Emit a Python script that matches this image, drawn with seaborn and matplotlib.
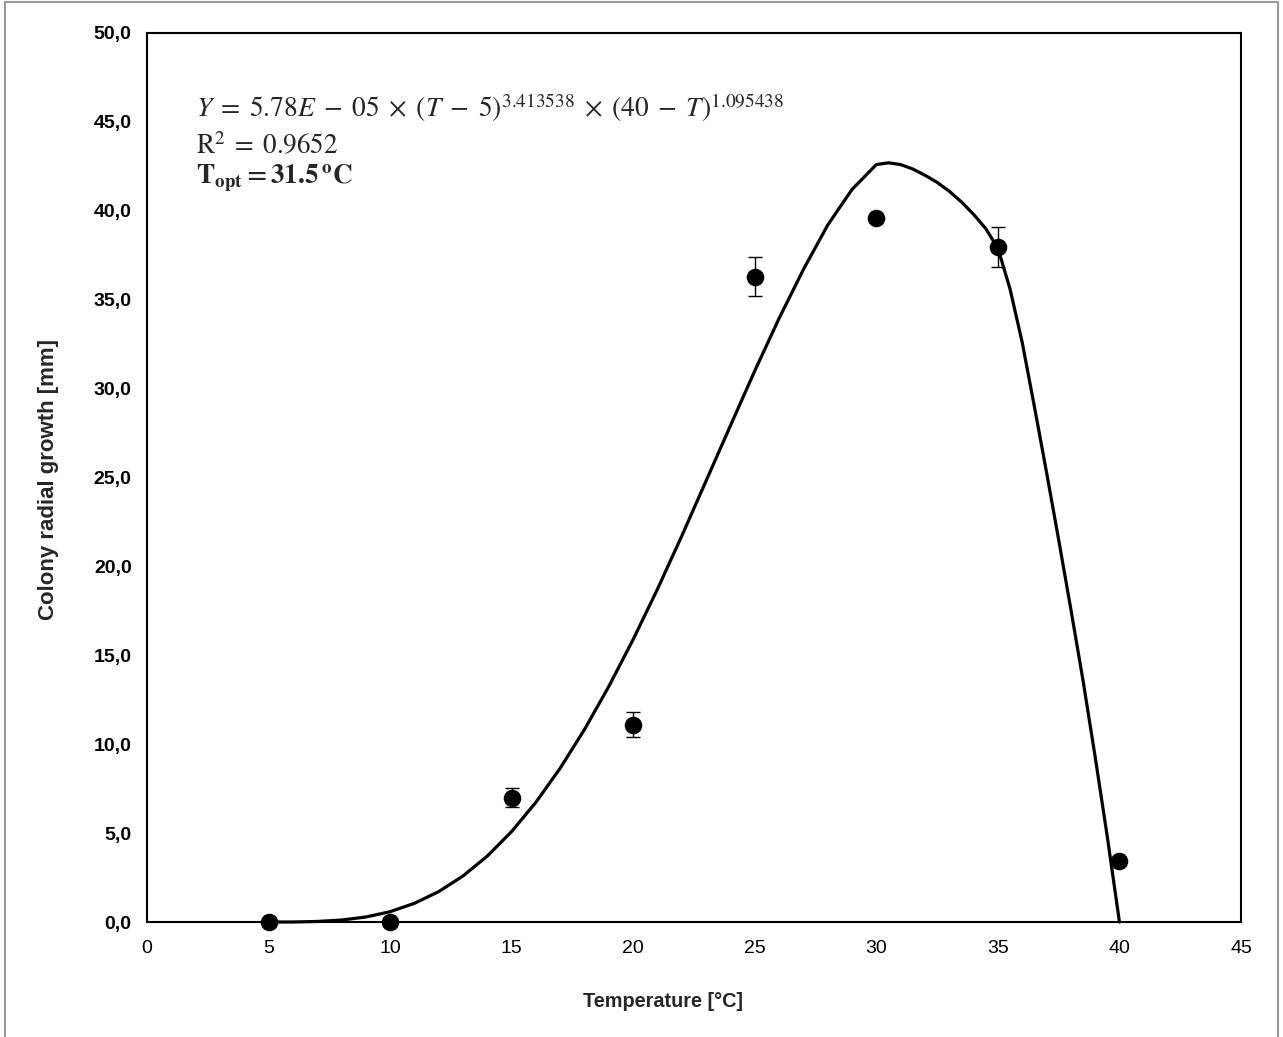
import numpy as np
import pandas as pd
import matplotlib
matplotlib.use("Agg")
import matplotlib.pyplot as plt
from matplotlib.patches import Rectangle
import seaborn as sns

# ---- data ----
temperature = [5, 10, 15, 20, 25, 30, 35, 40]
growth = [0.0, 0.0, 7.0, 11.1, 36.3, 39.6, 37.95, 3.45]
growth_err = [0.0, 0.0, 0.53, 0.70, 1.09, 0.0, 1.12, 0.2]

# fitted curve, values
fit_temperature = [5, 6, 7, 8, 9, 10, 11, 12, 13, 14, 15, 16, 17, 18, 19, 20,
                   21, 22, 23, 24, 25, 26, 27, 28, 29, 30, 30.5, 31, 31.5, 32,
                   32.5, 33, 33.5, 34, 34.5, 35, 35.5, 36, 36.5, 37, 37.5, 38,
                   38.5, 39, 39.5, 40]
fit_growth = [0.0, 0.0, 0.03, 0.11, 0.28, 0.58, 1.05, 1.71, 2.59, 3.71, 5.09,
              6.74, 8.66, 10.84, 13.26, 15.9, 18.73, 21.72, 24.82, 27.92, 31.0,
              33.95, 36.7, 39.2, 41.2, 42.6, 42.7, 42.6, 42.35, 42.0,
              41.6, 41.1, 40.5, 39.8, 39.0, 37.9, 35.6, 32.6, 29.0, 25.3,
              21.5, 17.6, 13.6, 9.3, 4.8, 0.0]

x_ticks = [0, 5, 10, 15, 20, 25, 30, 35, 40, 45]
y_ticks = [0, 5, 10, 15, 20, 25, 30, 35, 40, 45, 50]

sns.set_theme(style="white")
fam = ["Liberation Sans", "DejaVu Sans"]
plt.rcParams["font.family"] = fam
plt.rcParams["mathtext.fontset"] = "stix"

fig = plt.figure(figsize=(12.83, 10.37), dpi=100)
ax = fig.add_axes([147 / 1283, 1 - 922 / 1037, (1241 - 147) / 1283, (922 - 33) / 1037])

fit_df = pd.DataFrame({"T": fit_temperature, "Y": fit_growth})
sns.lineplot(data=fit_df, x="T", y="Y", ax=ax, color="black", lw=2.3,
             sort=False, estimator=None, zorder=3, clip_on=False,
             solid_joinstyle="round", solid_capstyle="round")

df = pd.DataFrame({"T": temperature, "G": growth, "E": growth_err})
ax.errorbar(df["T"], df["G"], yerr=df["E"], fmt="none", ecolor="black",
            elinewidth=1.0, capsize=5, capthick=1.0, zorder=4)
sns.scatterplot(data=df, x="T", y="G", ax=ax, color="black", s=160,
                edgecolor="black", linewidth=0, zorder=5, legend=False, clip_on=False)

ax.set_xlim(0, 45)
ax.set_ylim(0, 50)
ax.set_xticks(x_ticks)
ax.set_yticks(y_ticks)
ax.set_xticklabels([str(v) for v in x_ticks], fontsize=14)
ax.set_yticklabels([f"{v:.1f}".replace(".", ",") for v in y_ticks], fontsize=14,
                   fontweight="bold")
ax.tick_params(axis="both", direction="out", length=5, width=0.8, color="#777777",
               pad=6, labelcolor="black")
ax.tick_params(axis="x", pad=8)
for sp in ax.spines.values():
    sp.set_visible(True)
    sp.set_color("black")
    sp.set_linewidth(1.5)

ax.set_xlabel("Temperature [°C]", fontsize=14.3, fontweight="bold")
ax.set_ylabel("Colony radial growth [mm]", fontsize=16, fontweight="bold")
ax.xaxis.set_label_coords((663 - 147) / 1094, (922 - 992) / 889)
ax.yaxis.set_label_coords((59 - 147) / 1094, (922 - 480) / 889)

ax.text(2.0, 45.8,
        r"$Y\;=\;5.78E\;-\;05\;\times\;(T\;-\;5)^{3.413538}\;\times\;(40\;-\;T)^{1.095438}$",
        fontsize=19.8, va="center", ha="left")
ax.text(2.0, 43.6, r"$\mathrm{R}^{2}\;=\;0.9652$", fontsize=19.5, va="center", ha="left")
ax.text(2.0, 41.8, r"$\mathbf{T_{opt}=31.5\,^{o}C}$", fontsize=19.5, va="center", ha="left")

fig.patches.append(Rectangle((5 / 1283, -0.01), 1273 / 1283, 1.0 - 2 / 1037 + 0.01,
                             transform=fig.transFigure, fill=False,
                             edgecolor="#999999", lw=1.5))

fig.savefig("out.png", dpi=100)
